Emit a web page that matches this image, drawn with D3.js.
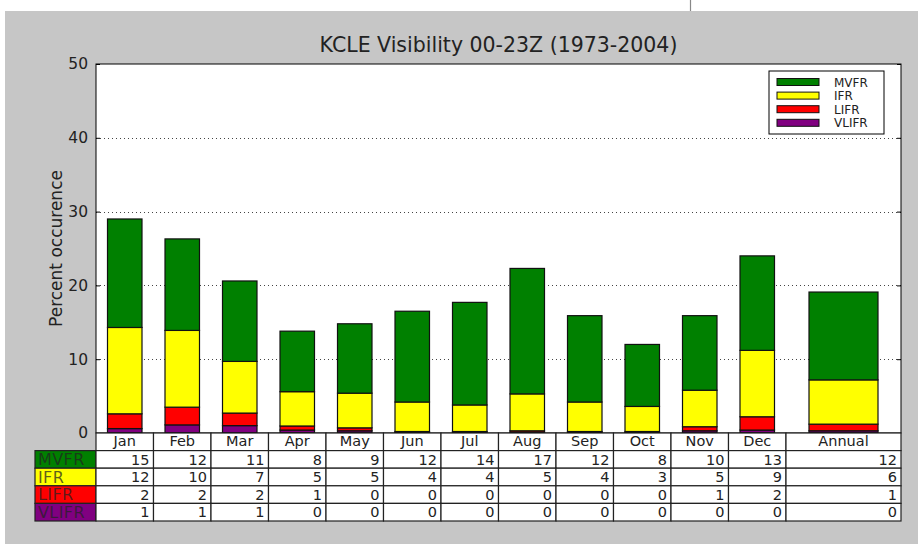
<!DOCTYPE html>
<html lang="en">
<head>
  <meta charset="UTF-8">
  <title>KCLE Visibility</title>
  <script src="https://d3js.org/d3.v7.min.js"></script>
  <style>
    body {
      margin: 0;
      background: #fff;
      font-family: "DejaVu Sans", sans-serif;
    }
    text {
      fill: #222;
    }
  </style>
</head>
<body>
  <script>
    // Months (Annual takes a double-width column)
    const months = ["Jan", "Feb", "Mar", "Apr", "May", "Jun", "Jul", "Aug", "Sep", "Oct", "Nov", "Dec", "Annual"];
    const colSpan = [1, 1, 1, 1, 1, 1, 1, 1, 1, 1, 1, 1, 2];

    // Percent occurrence per category
    const mvfr  = [14.7, 12.4, 10.9, 8.2, 9.4, 12.3, 13.9, 17.0, 11.7, 8.4, 10.1, 12.8, 11.9];
    const ifr   = [11.7, 10.4, 7.0, 4.65, 4.7, 4.0, 3.6, 5.0, 4.0, 3.4, 4.95, 9.0, 6.0];
    const lifr  = [2.0, 2.4, 1.7, 0.55, 0.4, 0.1, 0.1, 0.2, 0.1, 0.15, 0.55, 1.8, 0.9];
    const vlifr = [0.6, 1.1, 1.0, 0.4, 0.3, 0.1, 0.1, 0.1, 0.1, 0.05, 0.3, 0.4, 0.3];

    const yTicks = [0, 10, 20, 30, 40, 50];

    // table/legend order (top to bottom)
    const categories = ["MVFR", "IFR", "LIFR", "VLIFR"];
    const colors = { MVFR: "#008000", IFR: "#ffff00", LIFR: "#ff0000", VLIFR: "#800080" };
    const seriesData = { MVFR: mvfr, IFR: ifr, LIFR: lifr, VLIFR: vlifr };

    const width = 922, height = 544;
    const plot = { left: 96, right: 901, top: 64, bottom: 433 };
    const rowH = 17.6;

    const svg = d3.select("body").append("svg")
      .attr("width", width)
      .attr("height", height);

    // gray figure background
    svg.append("rect")
      .attr("x", 5).attr("y", 11)
      .attr("width", 913).attr("height", height - 11)
      .attr("fill", "#c6c6c6");
    svg.append("line")
      .attr("x1", 690.5).attr("x2", 690.5)
      .attr("y1", 0).attr("y2", 11)
      .attr("stroke", "#888").attr("stroke-width", 1.2);

    // scales
    const totalUnits = d3.sum(colSpan);
    const x = d3.scaleLinear().domain([0, totalUnits]).range([plot.left, plot.right]);
    const y = d3.scaleLinear().domain([0, 50]).range([plot.bottom, plot.top]);
    const colStart = colSpan.map((s, i) => d3.sum(colSpan.slice(0, i)));

    // plot background
    svg.append("rect")
      .attr("x", plot.left).attr("y", plot.top)
      .attr("width", plot.right - plot.left).attr("height", plot.bottom - plot.top)
      .attr("fill", "#fff");

    // grid
    svg.append("g")
      .selectAll("line")
      .data(yTicks.filter(d => d > 0 && d < 50))
      .join("line")
      .attr("x1", plot.left).attr("x2", plot.right)
      .attr("y1", d => Math.round(y(d)) + 0.5).attr("y2", d => Math.round(y(d)) + 0.5)
      .attr("stroke", "#444")
      .attr("stroke-width", 1)
      .attr("stroke-dasharray", "1,3");

    // stacked bars
    const rows = months.map((m, i) => ({
      month: m, i,
      VLIFR: vlifr[i], LIFR: lifr[i], IFR: ifr[i], MVFR: mvfr[i]
    }));
    const stack = d3.stack().keys(["VLIFR", "LIFR", "IFR", "MVFR"]);
    const layers = stack(rows);

    svg.append("g")
      .selectAll("g")
      .data(layers)
      .join("g")
      .attr("fill", d => colors[d.key])
      .selectAll("rect")
      .data(d => d)
      .join("rect")
      .attr("x", d => x(colStart[d.data.i] + colSpan[d.data.i] * 0.2))
      .attr("width", d => x(colSpan[d.data.i] * 0.6) - x(0))
      .attr("y", d => y(d[1]))
      .attr("height", d => y(d[0]) - y(d[1]))
      .attr("stroke", "#111")
      .attr("stroke-width", 1.2);

    // y axis
    const yAxis = svg.append("g")
      .attr("transform", `translate(${plot.left},0)`)
      .call(d3.axisLeft(y).tickValues(yTicks).tickSize(-4).tickPadding(8));
    yAxis.select(".domain").remove();
    yAxis.selectAll("line").attr("stroke", "#000");
    yAxis.selectAll("text")
      .attr("font-size", 15.5)
      .attr("font-family", "DejaVu Sans")
      .attr("fill", "#333");
    const yAxisR = svg.append("g")
      .attr("transform", `translate(${plot.right},0)`)
      .call(d3.axisRight(y).tickValues(yTicks).tickSize(-4).tickFormat(""));
    yAxisR.select(".domain").remove();
    yAxisR.selectAll("line").attr("stroke", "#000");

    // plot border
    svg.append("rect")
      .attr("x", plot.left).attr("y", plot.top)
      .attr("width", plot.right - plot.left).attr("height", plot.bottom - plot.top)
      .attr("fill", "none")
      .attr("stroke", "#000")
      .attr("stroke-width", 1);

    // title and y label
    svg.append("text")
      .attr("x", (plot.left + plot.right) / 2)
      .attr("y", 52)
      .attr("text-anchor", "middle")
      .attr("font-size", 20.5)
      .text("KCLE Visibility 00-23Z (1973-2004)");

    svg.append("text")
      .attr("transform", `translate(62,${(plot.top + plot.bottom) / 2}) rotate(-90)`)
      .attr("text-anchor", "middle")
      .attr("font-size", 17)
      .attr("fill", "#333")
      .text("Percent occurence");

    // legend
    const legend = svg.append("g").attr("transform", "translate(769,71)");
    legend.append("rect")
      .attr("width", 115).attr("height", 63)
      .attr("fill", "#fff")
      .attr("stroke", "#000")
      .attr("stroke-width", 1);
    const li = legend.selectAll("g")
      .data(categories)
      .join("g")
      .attr("transform", (d, i) => `translate(0,${11 + i * 13.6})`);
    li.append("rect")
      .attr("x", 8).attr("y", -3.5)
      .attr("width", 42).attr("height", 7)
      .attr("fill", d => colors[d])
      .attr("stroke", "#111")
      .attr("stroke-width", 1);
    li.append("text")
      .attr("x", 65).attr("y", 4.5)
      .attr("font-size", 12)
      .text(d => d);

    // table: header row with month names
    const table = svg.append("g");
    const hdrTop = plot.bottom;
    table.append("g")
      .selectAll("rect")
      .data(months)
      .join("rect")
      .attr("x", (d, i) => x(colStart[i]))
      .attr("y", hdrTop)
      .attr("width", (d, i) => x(colSpan[i]) - x(0))
      .attr("height", rowH)
      .attr("fill", "#fff")
      .attr("stroke", "#222")
      .attr("stroke-width", 1.2);
    table.append("g")
      .selectAll("text")
      .data(months)
      .join("text")
      .attr("x", (d, i) => x(colStart[i] + colSpan[i] / 2))
      .attr("y", hdrTop + 13)
      .attr("text-anchor", "middle")
      .attr("font-size", 14.5)
      .attr("fill", "#333")
      .text(d => d);

    // data rows
    categories.forEach((cat, r) => {
      const top = hdrTop + rowH * (r + 1);
      const g = table.append("g");
      g.append("rect")
        .attr("x", 35).attr("y", top)
        .attr("width", plot.left - 35).attr("height", rowH)
        .attr("fill", colors[cat])
        .attr("stroke", "#222")
        .attr("stroke-width", 1.2);
      g.append("text")
        .attr("x", 38).attr("y", top + 14.5)
        .attr("font-size", 16)
        .attr("letter-spacing", 0.4)
        .attr("fill", "#000")
        .attr("fill-opacity", 0.72)
        .text(cat);
      g.selectAll("rect.cell")
        .data(seriesData[cat])
        .join("rect")
        .attr("class", "cell")
        .attr("x", (d, i) => x(colStart[i]))
        .attr("y", top)
        .attr("width", (d, i) => x(colSpan[i]) - x(0))
        .attr("height", rowH)
        .attr("fill", "#fff")
        .attr("stroke", "#222")
        .attr("stroke-width", 1.2);
      g.selectAll("text.val")
        .data(seriesData[cat])
        .join("text")
        .attr("class", "val")
        .attr("x", (d, i) => x(colStart[i] + colSpan[i]) - 4)
        .attr("y", top + 14)
        .attr("text-anchor", "end")
        .attr("font-size", 14.5)
        .text(d => Math.round(d));
    });
  </script>
</body>
</html>
